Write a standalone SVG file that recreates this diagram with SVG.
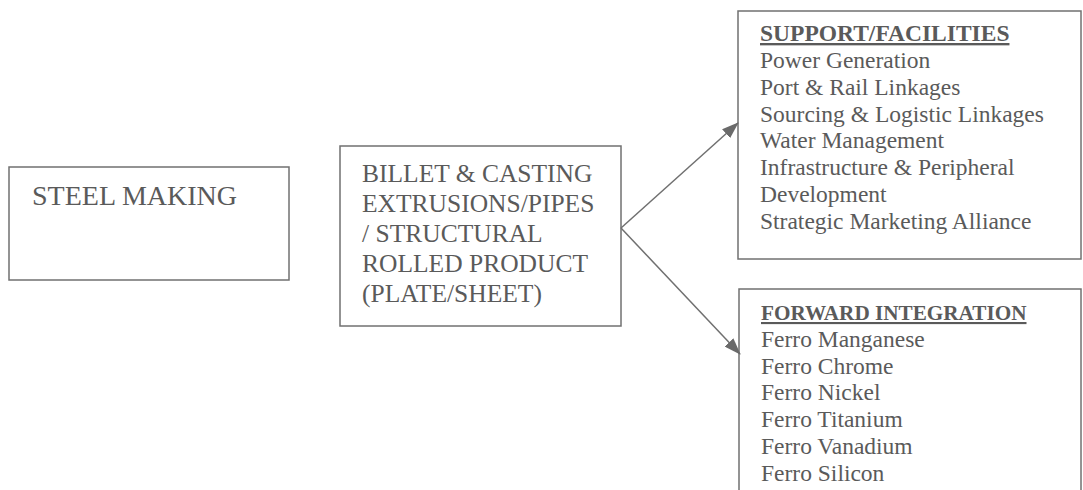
<svg xmlns="http://www.w3.org/2000/svg" width="1083" height="490" viewBox="0 0 1083 490">
<style>
.box{fill:#fff;stroke:#707070;stroke-width:1.5}
.t{font-family:"Liberation Serif","Times New Roman",serif;fill:#5a5a5a}
.big{font-size:25.5px}
.mid{font-size:23.5px}
.hd{font-weight:bold;text-decoration:underline}
.conn{stroke:#707070;stroke-width:1.5;fill:none}
</style>
<defs>
<marker id="arr" markerWidth="17" markerHeight="12" refX="16" refY="6" orient="auto" markerUnits="userSpaceOnUse">
<path d="M0,0 L17,6 L0,12 z" fill="#6a6a6a"/>
</marker>
</defs>
<rect width="1083" height="490" fill="#fff"/>
<g id="steel-making">
<rect class="box" x="9" y="167" width="280" height="113"/>
<text class="t" x="32" y="205" font-size="28">STEEL MAKING</text>
</g>
<g id="billet-casting">
<rect class="box" x="340" y="146" width="281" height="180"/>
<text class="t big" x="362" y="182">BILLET &amp; CASTING</text>
<text class="t big" x="362" y="212">EXTRUSIONS/PIPES</text>
<text class="t big" x="362" y="242">/ STRUCTURAL</text>
<text class="t big" x="362" y="272">ROLLED PRODUCT</text>
<text class="t big" x="362" y="302">(PLATE/SHEET)</text>
</g>
<g id="support-facilities">
<rect class="box" x="738" y="11" width="343" height="248"/>
<text class="t mid hd" x="760" y="41">SUPPORT/FACILITIES</text>
<text class="t mid" x="760" y="68">Power Generation</text>
<text class="t mid" x="760" y="95">Port &amp; Rail Linkages</text>
<text class="t mid" x="760" y="122">Sourcing &amp; Logistic Linkages</text>
<text class="t mid" x="760" y="148">Water Management</text>
<text class="t mid" x="760" y="175">Infrastructure &amp; Peripheral</text>
<text class="t mid" x="760" y="202">Development</text>
<text class="t mid" x="760" y="229">Strategic Marketing Alliance</text>
</g>
<g id="forward-integration">
<rect class="box" x="739" y="289" width="342" height="215"/>
<text class="t hd" x="761" y="320" font-size="21.2">FORWARD INTEGRATION</text>
<text class="t mid" x="761" y="347">Ferro Manganese</text>
<text class="t mid" x="761" y="374">Ferro Chrome</text>
<text class="t mid" x="761" y="400">Ferro Nickel</text>
<text class="t mid" x="761" y="427">Ferro Titanium</text>
<text class="t mid" x="761" y="454">Ferro Vanadium</text>
<text class="t mid" x="761" y="481">Ferro Silicon</text>
</g>
<g id="connectors">
<line class="conn" x1="621" y1="228" x2="738" y2="123" marker-end="url(#arr)"/>
<line class="conn" x1="621" y1="228" x2="740" y2="354" marker-end="url(#arr)"/>
</g>
</svg>
